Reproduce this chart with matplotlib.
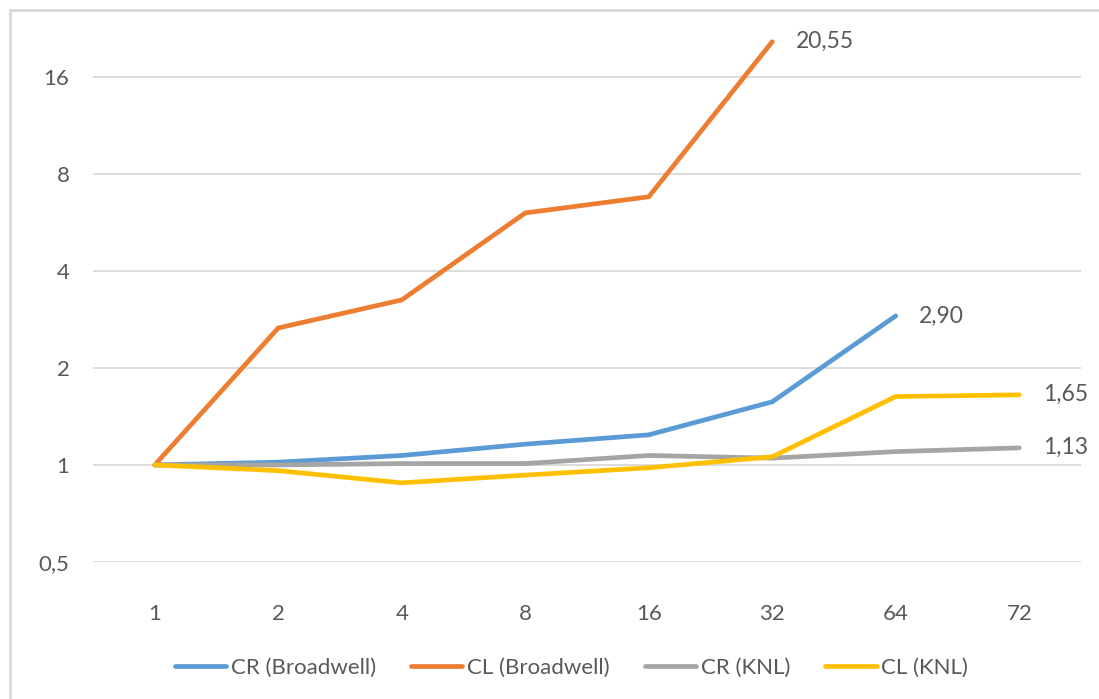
import matplotlib.pyplot as plt
from matplotlib.patches import Rectangle
from matplotlib.ticker import FixedLocator, FixedFormatter

# Threads and measured speedups
threads = ['1', '2', '4', '8', '16', '32', '64', '72']
cr_broadwell = [1.00, 1.02, 1.07, 1.16, 1.24, 1.57, 2.90]
cl_broadwell = [1.00, 2.66, 3.25, 6.05, 6.79, 20.55]
cr_knl = [1.00, 1.00, 1.01, 1.01, 1.07, 1.05, 1.10, 1.13]
cl_knl = [1.00, 0.96, 0.88, 0.93, 0.98, 1.06, 1.63, 1.65]

series = [
    ('CR (Broadwell)', cr_broadwell, '#5B9BD5'),
    ('CL (Broadwell)', cl_broadwell, '#ED7D31'),
    ('CR (KNL)', cr_knl, '#A5A5A5'),
    ('CL (KNL)', cl_knl, '#FFC000'),
]
yticks = [0.5, 1, 2, 4, 8, 16]
ytick_labels = ['0,5', '1', '2', '4', '8', '16']

plt.rcParams['font.family'] = ['Lato', 'DejaVu Sans']
txt = '#595959'

fig = plt.figure(figsize=(10.99, 6.99), dpi=100)
ax = fig.add_axes([93 / 1099, 137 / 699, 988 / 1099, 542 / 699])

for name, vals, col in series:
    xs = list(range(len(vals)))
    ax.plot(xs, vals, color=col, lw=3.4, label=name,
            solid_capstyle='round', solid_joinstyle='miter')
    lab = f'{vals[-1]:.2f}'.replace('.', ',')
    ax.annotate(lab, (xs[-1], vals[-1]), xytext=(17, 0), textcoords='offset points',
                va='center', ha='left', fontsize=16.5, color=txt)

ax.set_yscale('log', base=2)
ax.set_ylim(0.5, 24.0)
ax.set_xlim(-0.5, len(threads) - 0.5)
ax.yaxis.set_major_locator(FixedLocator(yticks))
ax.yaxis.set_major_formatter(FixedFormatter(ytick_labels))
ax.yaxis.set_minor_locator(FixedLocator([]))
ax.set_xticks(range(len(threads)))
ax.set_xticklabels(threads)
ax.tick_params(axis='both', length=0, labelsize=16, labelcolor=txt)
ax.tick_params(axis='x', pad=30)
ax.tick_params(axis='y', pad=17)
ax.grid(axis='y', color='#D9D9D9', lw=1.3)
ax.set_axisbelow(True)
for s in ax.spines.values():
    s.set_visible(False)

fig.legend(loc='center', bbox_to_anchor=(0.52, 0.045), ncol=4, frameon=False,
           fontsize=16, labelcolor=txt, handlelength=2.3, handletextpad=0.2,
           columnspacing=1.6)

# chart frame
fig.patches.append(Rectangle((10 / 1099, -0.1), 1.2, (699 - 10) / 699 + 0.1,
                             transform=fig.transFigure, fill=False,
                             edgecolor='#D9D9D9', lw=2))

fig.savefig('out.png', dpi=100)
